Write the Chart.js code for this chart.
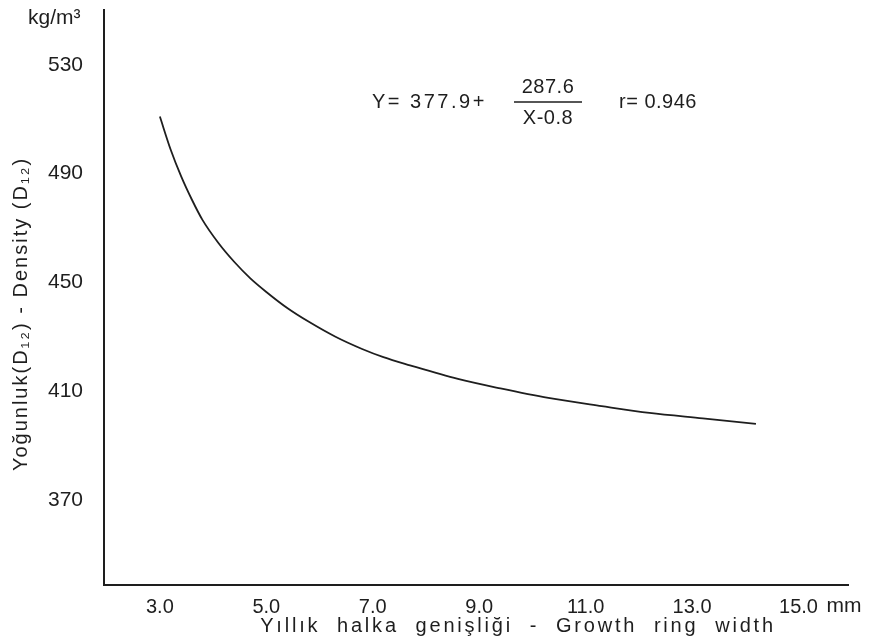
<!DOCTYPE html>
<html>
<head>
<meta charset="utf-8">
<script src="https://cdn.jsdelivr.net/npm/chart.js@4"></script>
<style>
  body { margin: 0; background: #fff; }
  #wrap { width: 892px; height: 636px; }
</style>
</head>
<body>
<div id="wrap"><canvas id="density-chart"></canvas></div>
<script>
// values
const ringWidth = [3.0, 3.2, 3.4, 3.6, 3.8, 4.1, 4.4, 4.7, 5.0, 5.4, 5.8, 6.3, 6.8, 7.2, 7.7, 8.6, 9.4, 10.3, 11.3, 12.2, 13.2, 14.2];
const density = [511, 499, 489, 480.5, 473, 464.5, 457.5, 451.5, 446.5, 440.5, 435.5, 430, 425.5, 422.5, 419.5, 414.5, 411, 407.5, 404.5, 402, 400, 398];
const xTicks = [3, 5, 7, 9, 11, 13, 15];
const yTicks = [370, 410, 450, 490, 530];

const ink = "#1e1e1e";
const font = "'Liberation Sans', Arial, sans-serif";

const textPlugin = {
  id: "labels",
  afterDraw(chart) {
    const ctx = chart.ctx;
    const xs = chart.scales.x;
    ctx.save();
    ctx.fillStyle = ink;
    ctx.strokeStyle = ink;

    // unit on top of y axis
    ctx.font = "21px " + font;
    ctx.textAlign = "left";
    ctx.textBaseline = "alphabetic";
    ctx.fillText("kg/m³", 28, 24);

    // "mm" after last tick
    ctx.fillText("mm", xs.getPixelForValue(15) + 28, 612);

    // x title
    ctx.letterSpacing = "2.8px";
    ctx.textAlign = "center";
    ctx.font = "20px " + font;
    ctx.fillText("Yıllık  halka  genişliği  -  Growth  ring  width", 518, 632);

    // y title
    ctx.save();
    ctx.translate(27, 314);
    ctx.rotate(-Math.PI / 2);
    ctx.letterSpacing = "2px";
    ctx.fillText("Yoğunluk(D₁₂) - Density (D₁₂)", 0, 0);
    ctx.restore();

    // regression equation
    ctx.font = "20px " + font;
    ctx.letterSpacing = "2.5px";
    ctx.textAlign = "left";
    ctx.textBaseline = "middle";
    ctx.fillText("Y= 377.9+", 372, 102);
    ctx.letterSpacing = "0.5px";
    ctx.textAlign = "center";
    ctx.fillText("287.6", 548, 87);
    ctx.fillText("X-0.8", 548, 118);
    ctx.lineWidth = 1.5;
    ctx.beginPath();
    ctx.moveTo(514, 102);
    ctx.lineTo(582, 102);
    ctx.stroke();
    ctx.textAlign = "left";
    ctx.fillText("r= 0.946", 619, 102);
    ctx.restore();
  }
};

new Chart(document.getElementById("density-chart"), {
  type: "line",
  data: {
    datasets: [{
      data: ringWidth.map((x, i) => ({ x, y: density[i] })),
      borderColor: ink,
      borderWidth: 1.8,
      pointRadius: 0,
      fill: false,
      cubicInterpolationMode: "monotone"
    }]
  },
  options: {
    responsive: true,
    maintainAspectRatio: false,
    animation: false,
    layout: { padding: { left: 0, top: 10, right: 44, bottom: 0 } },
    plugins: { legend: { display: false }, tooltip: { enabled: false } },
    scales: {
      x: {
        type: "linear",
        min: 1.95,
        max: 15.93,
        afterFit: s => { s.height = 51; s.paddingLeft = 0; s.paddingRight = 0; },
        afterBuildTicks: s => { s.ticks = xTicks.map(v => ({ value: v })); },
        grid: { display: false, drawTicks: false },
        border: { display: true, color: ink, width: 2 },
        ticks: {
          color: ink,
          padding: 10,
          font: { family: font, size: 20 },
          maxRotation: 0,
          callback: v => v.toFixed(1)
        }
      },
      y: {
        min: 338.7,
        max: 550.2,
        afterFit: s => { s.width = 104; s.paddingTop = 0; s.paddingBottom = 0; },
        afterBuildTicks: s => { s.ticks = yTicks.map(v => ({ value: v })); },
        grid: { display: false, drawTicks: false },
        border: { display: true, color: ink, width: 2 },
        ticks: {
          color: ink,
          padding: 21,
          font: { family: font, size: 21 },
          callback: v => String(v)
        }
      }
    }
  },
  plugins: [textPlugin]
});
</script>
</body>
</html>
